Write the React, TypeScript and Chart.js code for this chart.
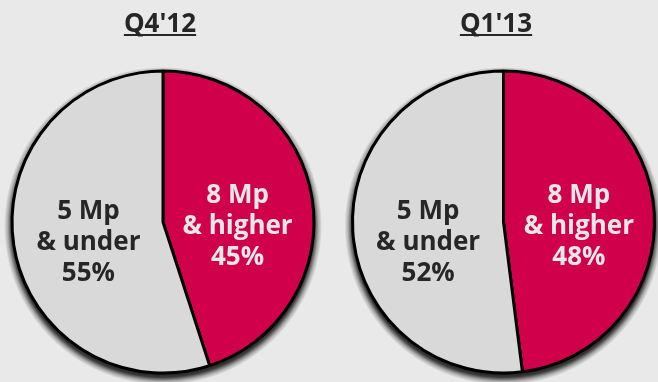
import React, { useEffect, useRef } from "react";
import { Chart, registerables } from "chart.js";

Chart.register(...registerables);

const categories = ["8 Mp & higher", "5 Mp & under"];
const labelLines = [["8 Mp", "& higher"], ["5 Mp", "& under"]];
const periods = ["Q4'12", "Q1'13"];
const valuesQ412 = [45, 55];
const valuesQ113 = [48, 52];
const seriesValues = [valuesQ412, valuesQ113];

const RED = "#d0004a";
const GRAY = "#d9d9d9";
const BG = "#e9e9e9";
const FONT = "'Open Sans', 'DejaVu Sans', sans-serif";

const shadowPlugin = {
  id: "pieShadow",
  beforeDatasetsDraw(chart: any) {
    const meta = chart.getDatasetMeta(0);
    const arc: any = meta.data[0];
    if (!arc) return;
    const { x, y, outerRadius } = arc.getProps(["x", "y", "outerRadius"], true);
    const ctx = chart.ctx;
    const sy = y + 4;
    const rOut = outerRadius + 8;
    ctx.save();
    const g = ctx.createRadialGradient(x, sy, outerRadius - 6, x, sy, rOut);
    g.addColorStop(0, "rgba(0,0,0,0.95)");
    g.addColorStop(0.45, "rgba(0,0,0,0.75)");
    g.addColorStop(0.75, "rgba(0,0,0,0.25)");
    g.addColorStop(1, "rgba(0,0,0,0)");
    ctx.beginPath();
    ctx.arc(x, sy, rOut, 0, Math.PI * 2);
    ctx.fillStyle = g;
    ctx.fill();
    ctx.restore();
  },
};

const labelPlugin = {
  id: "sliceLabels",
  afterDatasetsDraw(chart: any) {
    const ctx = chart.ctx;
    const meta = chart.getDatasetMeta(0);
    const ds = chart.data.datasets[0];
    const size = 26;
    const lineH = 31;
    const capH = size * 0.714;
    const dys = [3, 19];
    const colors = ["#e8e8e8", "#262626"];
    meta.data.forEach((arc: any, i: number) => {
      const p = arc.getProps(["x", "y", "startAngle", "endAngle", "outerRadius"], true);
      const mid = (p.startAngle + p.endAngle) / 2;
      const cx = p.x + Math.cos(mid) * p.outerRadius * 0.5;
      const cy = p.y + dys[i];
      const lines = [...labelLines[i], ds.data[i] + "%"];
      ctx.save();
      ctx.font = `bold ${size}px ${FONT}`;
      ctx.fillStyle = colors[i];
      ctx.textAlign = "center";
      ctx.textBaseline = "alphabetic";
      lines.forEach((t: string, j: number) => {
        ctx.fillText(t, cx, cy + capH / 2 + (j - 1) * lineH);
      });
      ctx.restore();
    });
  },
};

const titlePlugin = {
  id: "underlinedTitle",
  afterDraw(chart: any) {
    const opts = chart.options.plugins.underlinedTitle;
    if (!opts) return;
    const ctx = chart.ctx;
    ctx.save();
    ctx.font = `bold 26px ${FONT}`;
    ctx.fillStyle = "#262626";
    ctx.textAlign = "center";
    ctx.textBaseline = "alphabetic";
    ctx.fillText(opts.text, opts.x, 32);
    const w = ctx.measureText(opts.text).width;
    ctx.fillRect(opts.x - w / 2, 34, w, 2);
    ctx.restore();
  },
};

function PieChart({ idx, left, width, padLeft, titleX }: any) {
  const ref = useRef<HTMLCanvasElement>(null);
  useEffect(() => {
    if (!ref.current) return;
    const chart = new Chart(ref.current, {
      type: "pie",
      data: {
        labels: categories,
        datasets: [
          {
            data: seriesValues[idx],
            backgroundColor: [RED, GRAY],
            borderColor: "#000",
            borderWidth: 3,
            hoverOffset: 0,
          },
        ],
      },
      options: {
        responsive: false,
        animation: false,
        radius: 151,
        layout: { padding: { top: 69, bottom: 7, left: padLeft, right: 0 } },
        events: [],
        plugins: {
          legend: { display: false },
          tooltip: { enabled: false },
          underlinedTitle: { text: periods[idx], x: titleX },
        } as any,
      },
      plugins: [shadowPlugin, labelPlugin, titlePlugin],
    });
    return () => chart.destroy();
  }, []);
  return (
    <canvas
      ref={ref}
      width={width}
      height={382}
      style={{ position: "absolute", left, top: 0, width, height: 382 }}
    />
  );
}

export default function App() {
  return (
    <div
      style={{
        position: "fixed",
        left: 0,
        top: 0,
        width: 658,
        height: 382,
        background: BG,
        overflow: "hidden",
      }}
    >
      <PieChart idx={0} left={0} width={326} padLeft={0} titleX={160} />
      <PieChart idx={1} left={340} width={318} padLeft={9} titleX={156} />
    </div>
  );
}
